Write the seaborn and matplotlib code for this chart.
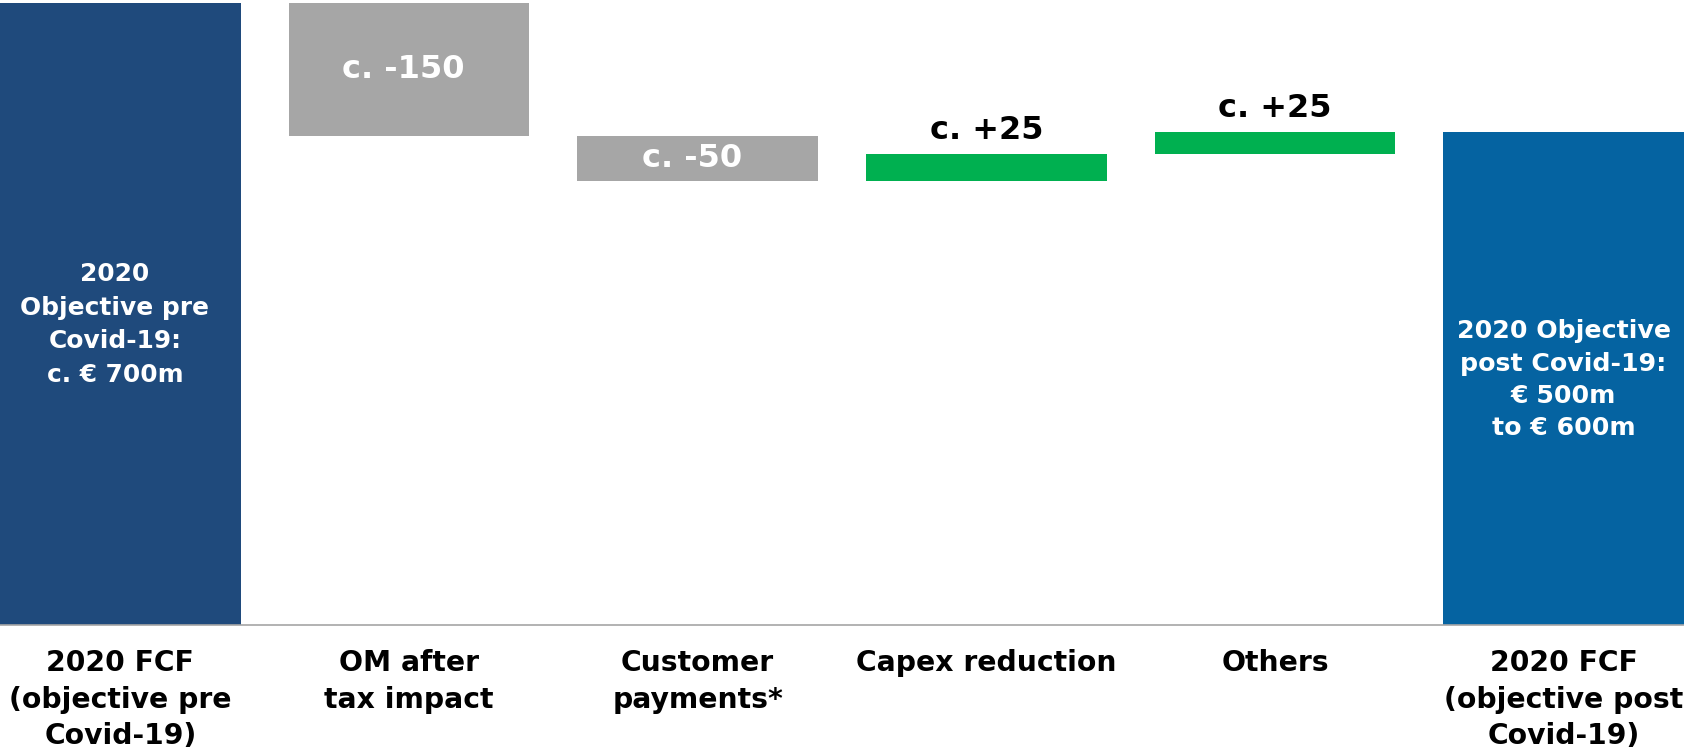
import numpy as np
import pandas as pd
import matplotlib
matplotlib.use("Agg")
import matplotlib.pyplot as plt
import seaborn as sns

# ---- data ----
categories = [
    "2020 FCF\n(objective pre\nCovid-19)",
    "OM after\ntax impact",
    "Customer\npayments*",
    "Capex reduction",
    "Others",
    "2020 FCF\n(objective post\nCovid-19)",
]
start_value = 700
step_values = [-150, -50, 30, 25]
end_value = 555
step_labels = ["c. -150", "c. -50", "c. +25", "c. +25"]
total_labels = [
    "2020\nObjective pre\nCovid-19:\nc. € 700m",
    "2020 Objective\npost Covid-19:\n€ 500m\nto € 600m",
]
bar_colors = ["#1F4A7C", "#A6A6A6", "#A6A6A6", "#00B050", "#00B050", "#0563A1"]

# ---- derived waterfall geometry ----
levels = start_value + np.cumsum([0] + step_values)
bottoms = [0] + [min(levels[i], levels[i + 1]) for i in range(len(step_values))] + [0]
heights = [start_value] + [abs(v) for v in step_values] + [end_value]
df = pd.DataFrame({"category": categories, "height": heights, "bottom": bottoms})

sns.set_theme(style="white")
plt.rcParams["font.family"] = ["DejaVu Sans"]
plt.rcParams["font.weight"] = "bold"

fig = plt.figure(figsize=(16.84, 7.49), dpi=100)
ax = fig.add_axes([0, 124 / 749, 1, 625 / 749])

sns.barplot(
    data=df, x="category", y="height", order=categories,
    bottom=np.asarray(bottoms, dtype=float), width=0.834,
    errorbar=None, color="#A6A6A6", linewidth=0, ax=ax,
)
for patch, c in zip(ax.patches, bar_colors):
    patch.set_facecolor(c)
    patch.set_edgecolor("none")

ax.set_xlim(-0.417, 5.417)
ax.set_ylim(0, 703.3)
ax.set_xlabel("")
ax.set_ylabel("")
ax.set_yticks([])
for s in ["top", "left", "right"]:
    ax.spines[s].set_visible(False)
ax.spines["bottom"].set_color("#A6A6A6")
ax.spines["bottom"].set_linewidth(1.2)
ax.tick_params(axis="x", length=0, pad=17.5, labelsize=20.3, labelcolor="black")
for lbl in ax.get_xticklabels():
    lbl.set_fontweight("bold")
    lbl.set_linespacing(1.38)

# step value labels
for i, (v, lab) in enumerate(zip(step_values, step_labels)):
    x = i + 1
    if v < 0:
        ax.annotate(lab, (x, bottoms[x] + heights[x] / 2), xytext=(-4, 0),
                    textcoords="offset points", ha="center", va="center",
                    color="white", fontsize=23, fontweight="bold")
    else:
        ax.annotate(lab, (x, bottoms[x] + heights[x]), xytext=(0, 11),
                    textcoords="offset points", ha="center", va="baseline",
                    color="black", fontsize=23, fontweight="bold")

# total labels
ax.annotate(total_labels[0], (0, heights[0] / 2), xytext=(-4, -7.5),
            textcoords="offset points", ha="center", va="center",
            color="white", fontsize=17.9, fontweight="bold", linespacing=1.5)
ax.annotate(total_labels[1], (5, heights[5] / 2), xytext=(0, -1),
            textcoords="offset points", ha="center", va="center",
            color="white", fontsize=18.2, fontweight="bold", linespacing=1.44)

fig.savefig("out.png", dpi=100)
